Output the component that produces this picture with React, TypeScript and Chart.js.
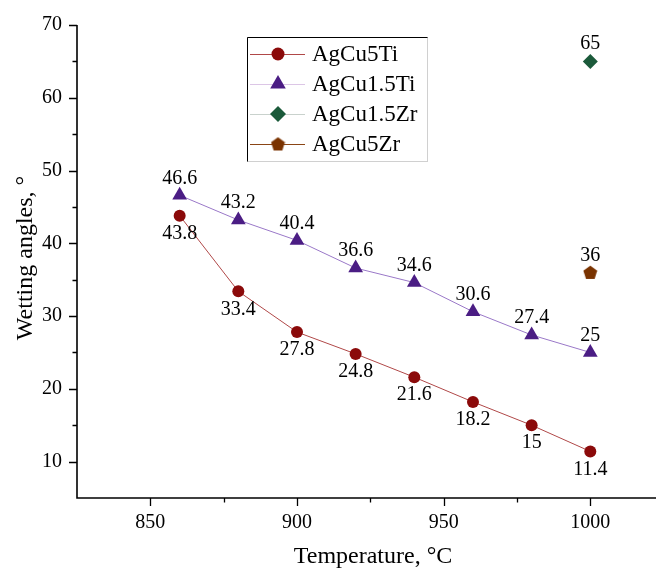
import React, { useEffect, useRef } from "react";
import { Chart, registerables } from "chart.js";

Chart.register(...registerables);

const temperatures = [860, 880, 900, 920, 940, 960, 980, 1000];
const agCu5Ti = [43.8, 33.4, 27.8, 24.8, 21.6, 18.2, 15, 11.4];
const agCu15Ti = [46.6, 43.2, 40.4, 36.6, 34.6, 30.6, 27.4, 25];
const agCu15ZrX = [1000];
const agCu15Zr = [65];
const agCu5ZrX = [1000];
const agCu5Zr = [36];

const xMajorTicks = [850, 900, 950, 1000];
const xMinorTicks = [875, 925, 975];
const yMajorTicks = [10, 20, 30, 40, 50, 60, 70];
const yMinorTicks = [15, 25, 35, 45, 55, 65];

const seriesNames = ["AgCu5Ti", "AgCu1.5Ti", "AgCu1.5Zr", "AgCu5Zr"];

const FONT = "'Liberation Serif', 'Times New Roman', serif";

function makePentagon(size: number, color: string) {
  const c = document.createElement("canvas");
  c.width = size;
  c.height = size;
  const ctx = c.getContext("2d")!;
  const r = size / 2;
  ctx.fillStyle = color;
  ctx.beginPath();
  for (let i = 0; i < 5; i++) {
    const a = -Math.PI / 2 + (i * 2 * Math.PI) / 5;
    const px = r + Math.cos(a) * (r - 0.2);
    const py = r + 0.6 + Math.sin(a) * (r - 0.2);
    if (i === 0) ctx.moveTo(px, py);
    else ctx.lineTo(px, py);
  }
  ctx.closePath();
  ctx.fill();
  return c;
}

export default function App() {
  const ref = useRef<HTMLCanvasElement | null>(null);

  useEffect(() => {
    document.body.style.margin = "0";
    const canvas = ref.current!;
    const pentagon = makePentagon(15, "#7a3300");

    const labelOffsets = [18, -17, -18, -17];

    const decor = {
      id: "decor",
      afterDatasetsDraw(chart: any) {
        const ctx = chart.ctx;
        const xs = chart.scales.x;
        const ys = chart.scales.y;
        const area = chart.chartArea;
        ctx.save();
        // axes
        ctx.strokeStyle = "#000";
        ctx.lineWidth = 1.6;
        ctx.beginPath();
        ctx.moveTo(area.left, ys.getPixelForValue(70));
        ctx.lineTo(area.left, area.bottom);
        ctx.lineTo(656, area.bottom);
        ctx.stroke();
        ctx.lineWidth = 1.3;
        ctx.beginPath();
        for (const v of xMajorTicks) {
          const px = Math.round(xs.getPixelForValue(v)) + 0.5;
          ctx.moveTo(px, area.bottom);
          ctx.lineTo(px, area.bottom + 8);
        }
        for (const v of xMinorTicks) {
          const px = Math.round(xs.getPixelForValue(v)) + 0.5;
          ctx.moveTo(px, area.bottom);
          ctx.lineTo(px, area.bottom + 4.5);
        }
        for (const v of yMajorTicks) {
          const py = Math.round(ys.getPixelForValue(v)) + 0.5;
          ctx.moveTo(area.left, py);
          ctx.lineTo(area.left - 8, py);
        }
        for (const v of yMinorTicks) {
          const py = Math.round(ys.getPixelForValue(v)) + 0.5;
          ctx.moveTo(area.left, py);
          ctx.lineTo(area.left - 4.5, py);
        }
        ctx.stroke();

        // data labels
        ctx.fillStyle = "#000";
        ctx.font = `20px ${FONT}`;
        ctx.textAlign = "center";
        ctx.textBaseline = "middle";
        chart.data.datasets.forEach((ds: any, i: number) => {
          const meta = chart.getDatasetMeta(i);
          meta.data.forEach((pt: any, j: number) => {
            const v = ds.data[j].y;
            ctx.fillText(String(v), pt.x, pt.y + labelOffsets[i]);
          });
        });

        // axis titles
        ctx.font = `24px ${FONT}`;
        ctx.fillText("Temperature, \u00B0C", 373, 557);
        ctx.save();
        ctx.translate(26, 258);
        ctx.rotate(-Math.PI / 2);
        ctx.fillText("Wetting angles, \u00B0", 0, 0);
        ctx.restore();

        // legend
        const lx = 247, ly = 37, lw = 180, lh = 124;
        ctx.lineWidth = 1;
        ctx.strokeStyle = "#d0d0d0";
        ctx.strokeRect(lx + 0.5, ly + 0.5, lw, lh);
        ctx.strokeStyle = "#000";
        ctx.beginPath();
        ctx.moveTo(lx + 0.5, ly + lh + 0.5);
        ctx.lineTo(lx + 0.5, ly + 0.5);
        ctx.lineTo(lx + lw + 0.5, ly + 0.5);
        ctx.stroke();
        const lineColors = ["#b04848", "#dcc6e6", "#c9d2cd", "#8a4515"];
        ctx.font = `23px ${FONT}`;
        ctx.textAlign = "left";
        for (let i = 0; i < 4; i++) {
          const cy = 54 + i * 30;
          ctx.strokeStyle = lineColors[i];
          ctx.lineWidth = 1.2;
          ctx.beginPath();
          ctx.moveTo(250, cy + 0.5);
          ctx.lineTo(305, cy + 0.5);
          ctx.stroke();
          const ds = chart.data.datasets[i];
          if (i === 3) {
            ctx.drawImage(pentagon, 278 - 7.5, cy - 7.5);
          } else {
            ctx.fillStyle = ds.pointBackgroundColor;
            ctx.beginPath();
            if (i === 0) {
              ctx.arc(278, cy, 6.5, 0, Math.PI * 2);
            } else if (i === 1) {
              const r = 9;
              ctx.moveTo(278, cy - r);
              ctx.lineTo(278 + r * 0.866, cy + r * 0.5);
              ctx.lineTo(278 - r * 0.866, cy + r * 0.5);
            } else {
              const r = 8;
              ctx.moveTo(278, cy - r);
              ctx.lineTo(278 + r, cy);
              ctx.lineTo(278, cy + r);
              ctx.lineTo(278 - r, cy);
            }
            ctx.closePath();
            ctx.fill();
          }
          ctx.fillStyle = "#000";
          ctx.textBaseline = "middle";
          ctx.fillText(seriesNames[i], 312, cy + 1);
        }
        ctx.restore();
      },
    };

    const chart = new Chart(canvas, {
      type: "line",
      data: {
        datasets: [
          {
            label: seriesNames[0],
            data: temperatures.map((t, i) => ({ x: t, y: agCu5Ti[i] })),
            borderColor: "#b04848",
            borderWidth: 1,
            pointStyle: "circle",
            pointRadius: 6,
            pointBackgroundColor: "#8b0a0a",
            pointBorderColor: "#8b0a0a",
            pointBorderWidth: 0,
          },
          {
            label: seriesNames[1],
            data: temperatures.map((t, i) => ({ x: t, y: agCu15Ti[i] })),
            borderColor: "#9a78c8",
            borderWidth: 1,
            pointStyle: "triangle",
            pointRadius: 8.5,
            pointBackgroundColor: "#4b1d84",
            pointBorderColor: "#4b1d84",
            pointBorderWidth: 0,
          },
          {
            label: seriesNames[2],
            data: agCu15ZrX.map((t, i) => ({ x: t, y: agCu15Zr[i] })),
            showLine: false,
            pointStyle: "rectRot",
            pointRadius: 7.5,
            pointBackgroundColor: "#1b5a3a",
            pointBorderColor: "#1b5a3a",
            pointBorderWidth: 0,
          },
          {
            label: seriesNames[3],
            data: agCu5ZrX.map((t, i) => ({ x: t, y: agCu5Zr[i] })),
            showLine: false,
            pointStyle: pentagon as any,
            pointRadius: 7.5,
            pointBackgroundColor: "#7a3300",
            pointBorderColor: "#7a3300",
          },
        ],
      },
      options: {
        animation: false,
        responsive: false,
        maintainAspectRatio: false,
        layout: { padding: { top: 25, right: 0, left: 0, bottom: 0 } },
        plugins: {
          legend: { display: false },
          tooltip: { enabled: false },
        },
        scales: {
          x: {
            type: "linear",
            min: 825,
            max: 1019.5,
            grid: { display: false, drawTicks: false },
            border: { display: false },
            afterBuildTicks: (s: any) => {
              s.ticks = xMajorTicks.map((v) => ({ value: v }));
            },
            afterFit: (s: any) => {
              s.height = 74;
              s.paddingLeft = 0;
              s.paddingRight = 0;
            },
            ticks: {
              color: "#000",
              font: { family: FONT, size: 20 },
              padding: 13,
              maxRotation: 0,
              autoSkip: false,
              callback: (v: any) => String(v),
            },
          },
          y: {
            type: "linear",
            min: 5,
            max: 70,
            grid: { display: false, drawTicks: false },
            border: { display: false },
            afterBuildTicks: (s: any) => {
              s.ticks = yMajorTicks.map((v) => ({ value: v }));
            },
            afterFit: (s: any) => {
              s.width = 77;
              s.paddingTop = 0;
              s.paddingBottom = 0;
            },
            ticks: {
              color: "#000",
              font: { family: FONT, size: 20 },
              padding: 15,
              autoSkip: false,
              callback: (v: any) => String(v),
            },
          },
        },
      },
      plugins: [decor],
    });

    return () => chart.destroy();
  }, []);

  return (
    <div style={{ width: 656, height: 572 }}>
      <canvas ref={ref} width={656} height={572} style={{ display: "block" }} />
    </div>
  );
}
